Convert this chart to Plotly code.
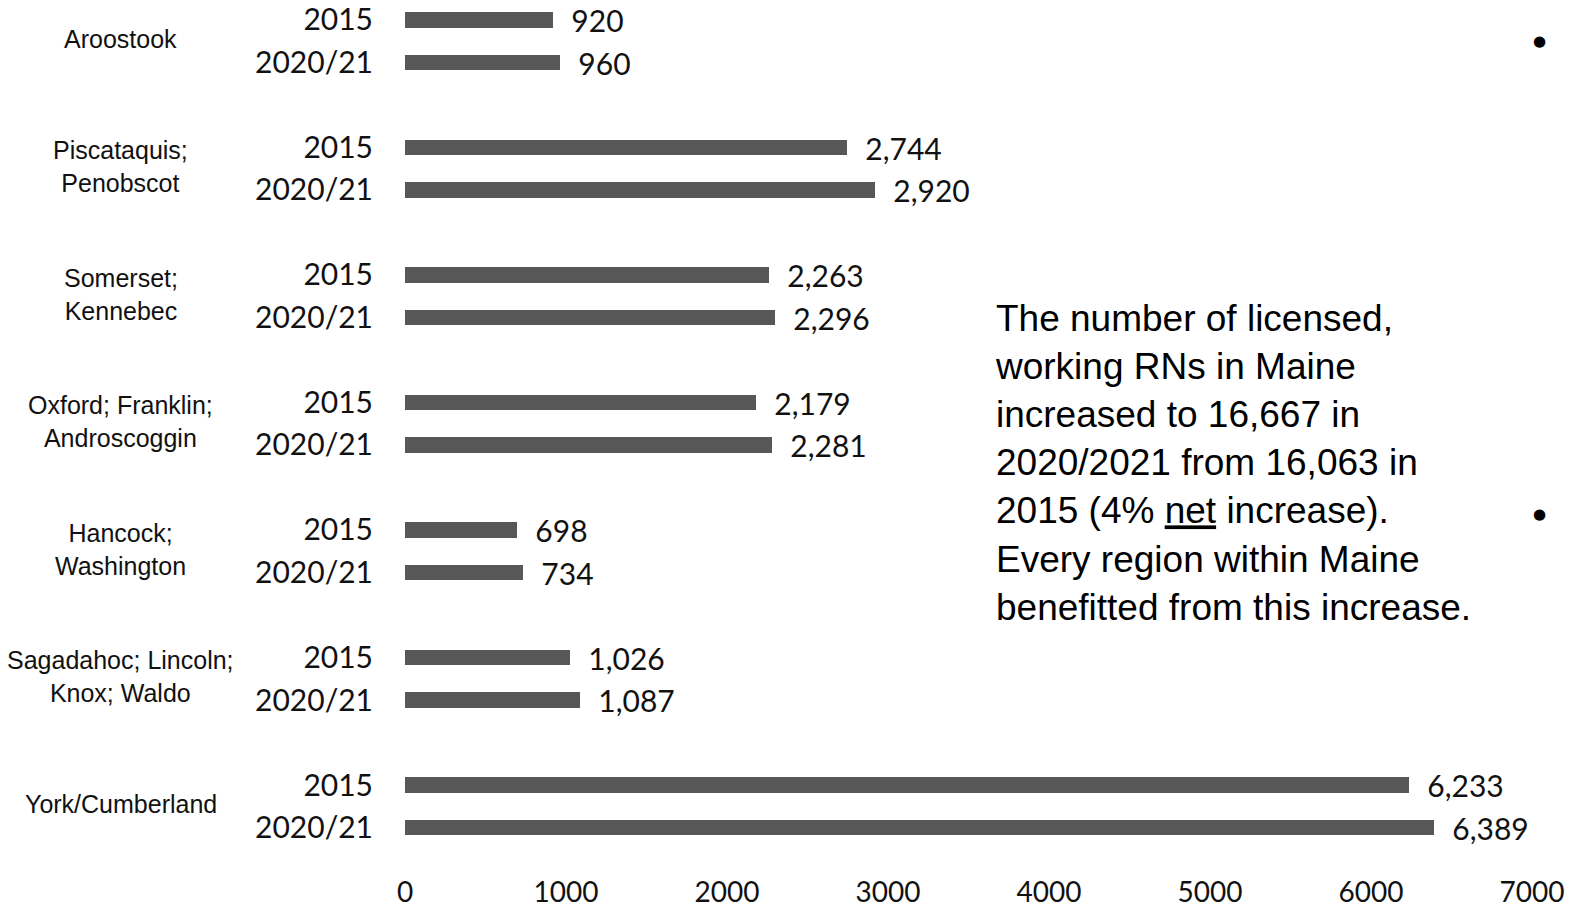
import plotly.graph_objects as go

# Regions and licensed, working RN counts
regions = [
    "Aroostook",
    "Piscataquis;<br>Penobscot",
    "Somerset;<br>Kennebec",
    "Oxford; Franklin;<br>Androscoggin",
    "Hancock;<br>Washington",
    "Sagadahoc; Lincoln;<br>Knox; Waldo",
    "York/Cumberland",
]
years = ["2015", "2020/21"]
rn_2015 = [920, 2744, 2263, 2179, 698, 1026, 6233]
rn_2021 = [960, 2920, 2296, 2281, 734, 1087, 6389]
x_ticks = [0, 1000, 2000, 3000, 4000, 5000, 6000, 7000]

summary = (
    "The number of licensed,<br>"
    "working RNs in Maine<br>"
    "increased to 16,667 in<br>"
    "2020/2021 from 16,063 in<br>"
    "2015 (4% <u>net</u> increase).<br>"
    "Every region within Maine<br>"
    "benefitted from this increase."
)

# Each region occupies three rows: one bar per year plus a spacer row
GROUP = 3
pos_2015 = [GROUP * i for i in range(len(regions))]
pos_2021 = [GROUP * i + 1 for i in range(len(regions))]

BAR_COLOR = "#575757"
NUM_FONT = dict(family="Lato, Carlito, sans-serif", size=30, color="#111111")
AXIS_FONT = dict(family="Lato, Carlito, sans-serif", size=28, color="#111111")
SANS = "Arial, Liberation Sans, sans-serif"

fig = go.Figure()
for vals, pos in ((rn_2015, pos_2015), (rn_2021, pos_2021)):
    fig.add_trace(go.Bar(
        x=vals,
        y=pos,
        orientation="h",
        width=0.37,
        marker=dict(color=BAR_COLOR, line=dict(width=0)),
        texttemplate="\u00a0\u00a0%{x:,}",
        textposition="outside",
        textfont=NUM_FONT,
        constraintext="none",
        cliponaxis=False,
        showlegend=False,
        hoverinfo="skip",
    ))

tick_pos = []
tick_txt = []
for a, b in zip(pos_2015, pos_2021):
    tick_pos += [a, b]
    tick_txt += years

fig.update_layout(
    width=1573,
    height=910,
    margin=dict(l=405, r=41, t=0, b=40),
    paper_bgcolor="white",
    plot_bgcolor="white",
    bargap=0,
    xaxis=dict(
        range=[0, 7000],
        tickvals=x_ticks,
        ticktext=[str(v) for v in x_ticks],
        showgrid=False,
        zeroline=False,
        showline=False,
        ticks="",
        ticklabelstandoff=3,
        automargin=False,
        tickfont=AXIS_FONT,
    ),
    yaxis=dict(
        range=[20.0, -0.47],
        tickvals=tick_pos,
        ticktext=tick_txt,
        showgrid=False,
        zeroline=False,
        showline=False,
        ticks="",
        ticklabelstandoff=31,
        automargin=False,
        tickfont=NUM_FONT,
    ),
)

# Region names to the left of the year labels
for i, name in enumerate(regions):
    fig.add_annotation(
        x=-0.252, xref="paper",
        y=GROUP * i + 0.5, yref="y",
        yshift=2,
        text=name,
        showarrow=False,
        xanchor="center", yanchor="middle",
        align="center",
        font=dict(family=SANS, size=25, color="#111111"),
    )

# Summary text block
fig.add_annotation(
    x=0.5217, xref="paper",
    y=0.66, yref="paper",
    text=summary,
    showarrow=False,
    xanchor="left", yanchor="top",
    align="left",
    font=dict(family=SANS, size=37, color="#000000"),
)

# Bullet markers on the right edge
for yp in (0.5, 11.62):
    fig.add_annotation(
        x=1.0, xref="paper", y=yp, yref="y",
        xshift=7,
        text="\u25cf", showarrow=False,
        xanchor="center", yanchor="middle",
        font=dict(family="DejaVu Sans, sans-serif", size=15, color="#000000"),
    )

fig.write_html("out.html")
